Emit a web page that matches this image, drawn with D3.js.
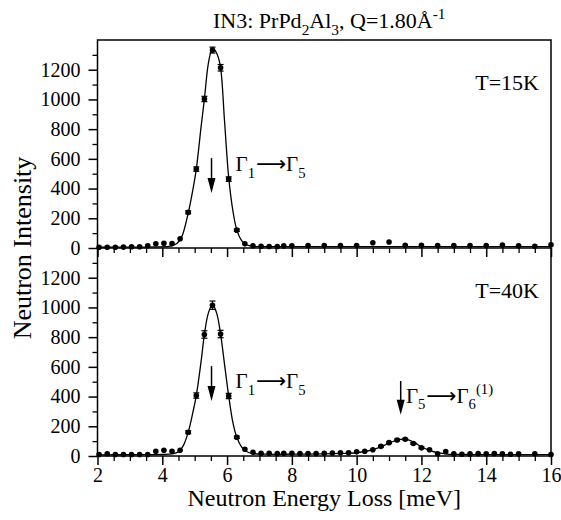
<!DOCTYPE html>
<html>
<head>
<meta charset="utf-8">
<script src="https://cdnjs.cloudflare.com/ajax/libs/d3/7.8.5/d3.min.js"></script>
<style>
  body { margin: 0; background: #fff; }
  text { font-family: "Liberation Serif", "Times New Roman", serif; fill: #000; }
</style>
</head>
<body>
<svg id="chart"></svg>
<script>
// values (IN3, PrPd2Al3)
const energy15 = [2.05,2.3,2.55,2.8,3.05,3.3,3.55,3.8,4.05,4.3,4.55,4.8,5.05,5.3,5.55,5.8,6.05,6.3,6.55,6.8,7.05,7.3,7.55,
  7.75,8.0,8.5,9.0,9.5,10.0,10.5,11.0,11.5,12.0,12.5,13.0,13.5,14.0,14.5,15.0,15.5,16.0]
const counts15 = [5,5,5,6,8,8,15,28,32,30,62,240,531,1003,1332,1213,464,120,28,15,12,10,10,
  14,15,16,16,16,16,35,40,18,18,16,16,16,16,20,15,12,22]
const err15 = [0,0,0,0,0,0,0,0,0,0,0,10,15,18,20,22,15,8,0,0,0,0,0,
  0,0,0,0,0,0,0,0,0,0,0,0,0,0,0,0,0,0]

const fitE15 = [2.0,3.0,3.8,4.3,4.45,4.6,4.8,4.95,5.05,5.2,5.3,5.42,5.52,5.6,5.7,5.8,5.92,6.05,6.18,6.3,6.45,6.6,6.8,7.1,8.0,16.0]
const fitI15 = [5,6,7,15,30,75,235,400,531,820,1003,1240,1325,1335,1300,1213,860,475,250,122,50,22,11,9,9,9]

const energy40 = [2.05,2.3,2.55,2.8,3.05,3.3,3.55,3.8,4.05,4.3,4.55,4.8,5.05,5.3,5.55,5.8,6.05,6.3,6.55,6.8,7.05,7.3,7.55,
  7.75,8.0,8.25,8.5,8.75,9.0,9.25,9.5,9.75,10.0,10.25,10.5,10.75,11.0,11.25,11.5,11.75,12.0,12.25,12.5,12.75,13.0,
  13.25,13.5,13.75,14.0,14.25,14.5,14.75,15.0,15.5,16.0]
const counts40 = [10,15,10,10,10,10,10,32,39,32,39,160,407,818,1015,821,404,126,45,25,18,18,16,
  18,18,16,16,16,18,20,22,22,28,32,42,65,90,108,113,84,55,42,15,30,14,
  12,14,16,15,16,14,12,14,15,10]
const err40 = [0,0,0,0,0,0,0,0,0,0,0,10,18,25,28,25,18,8,0,0,0,0,0,
  0,0,0,0,0,0,0,0,0,0,0,0,6,6,6,6,6,6,0,0,0,0,
  0,0,0,0,0,0,0,0,0,0]

const fitE40 = [2.0,3.5,4.0,4.3,4.5,4.65,4.8,4.95,5.05,5.2,5.3,5.42,5.55,5.68,5.8,5.92,6.05,6.18,6.3,6.45,6.6,6.8,7.2,
  8.0,9.0,9.5,10.0,10.3,10.6,10.85,11.1,11.3,11.45,11.6,11.8,12.0,12.25,12.5,12.8,13.2,14.0,16.0]
const fitI40 = [8,9,10,14,28,70,160,300,407,640,818,960,1020,960,821,620,404,225,126,60,30,16,12,
  12,14,17,22,32,50,72,96,110,113,108,88,62,38,22,13,10,9,9]

const xTicks = [2,4,6,8,10,12,14,16]
const yTicks = [0,200,400,600,800,1000,1200]
const tempLabels = ['T=15K', 'T=40K']

const width = 561
const height = 520
const left = 97.5
const right = 551
const panelTops = [40, 248]
const panelHeight = 208
const serif = '"Liberation Serif", "Times New Roman", serif'

const svg = d3.select('#chart')
  .attr('width', width)
  .attr('height', height)

svg.append('rect')
  .attr('width', width)
  .attr('height', height)
  .attr('fill', '#fff')

const x = d3.scaleLinear().domain([2, 16]).range([left, right])

const panels = [
  { energy: energy15, counts: counts15, err: err15, fitE: fitE15, fitI: fitI15 },
  { energy: energy40, counts: counts40, err: err40, fitE: fitE40, fitI: fitI40 }
]

const line = d3.line().curve(d3.curveCatmullRom.alpha(0.5))

// strip d3's default axis styling so the serif font applies
function styleAxis(a, w) {
  a.attr('font-family', serif).attr('font-size', 20)
  a.select('.domain').remove()
  a.selectAll('line').attr('stroke-width', w)
  a.selectAll('text').attr('font-family', serif).attr('font-size', 20)
}

panels.forEach((p, i) => {
  const top = panelTops[i]
  const bottom = top + panelHeight
  const y = d3.scaleLinear().domain([0, 1400]).range([bottom, top])
  p.y = y

  const g = svg.append('g')

  // y axis, major ticks with labels and minor ticks between them
  g.append('g')
    .attr('transform', `translate(${left},0)`)
    .call(d3.axisLeft(y).tickValues(yTicks).tickSize(9).tickPadding(8).tickFormat(d3.format('d')))
    .call(a => styleAxis(a, 1.5))

  g.append('g')
    .attr('transform', `translate(${left},0)`)
    .call(d3.axisLeft(y).tickValues(d3.range(100, 1400, 200)).tickSize(5).tickFormat(''))
    .call(a => styleAxis(a, 1.3))

  // x axis at the bottom of each panel
  g.append('g')
    .attr('transform', `translate(0,${bottom})`)
    .call(d3.axisBottom(x).tickValues(xTicks).tickSize(9).tickPadding(3)
      .tickFormat(i === 1 ? d3.format('d') : ''))
    .call(a => styleAxis(a, 1.5))

  g.append('g')
    .attr('transform', `translate(0,${bottom})`)
    .call(d3.axisBottom(x).tickValues(d3.range(2.5, 16, 0.5).filter(v => v % 2 !== 0)).tickSize(5).tickFormat(''))
    .call(a => styleAxis(a, 1.3))

  // fit curve
  g.append('path')
    .datum(d3.zip(p.fitE, p.fitI))
    .attr('d', line.x(d => x(d[0])).y(d => y(d[1])))
    .attr('fill', 'none')
    .attr('stroke', '#000')
    .attr('stroke-width', 1.3)

  const pts = d3.zip(p.energy, p.counts, p.err)

  // error bars
  const eb = g.append('g').selectAll('g')
    .data(pts.filter(d => d[2] > 0))
    .join('g')
  eb.append('line')
    .attr('x1', d => x(d[0])).attr('x2', d => x(d[0]))
    .attr('y1', d => y(d[1] - d[2])).attr('y2', d => y(d[1] + d[2]))
    .attr('stroke', '#000').attr('stroke-width', 1.2)
  eb.selectAll('.cap')
    .data(d => [d[1] - d[2], d[1] + d[2]].map(v => [d[0], v]))
    .join('line')
    .attr('x1', d => x(d[0]) - 3).attr('x2', d => x(d[0]) + 3)
    .attr('y1', d => y(d[1])).attr('y2', d => y(d[1]))
    .attr('stroke', '#000').attr('stroke-width', 1.2)

  // data points
  g.append('g').selectAll('circle')
    .data(pts)
    .join('circle')
    .attr('cx', d => x(d[0]))
    .attr('cy', d => y(d[1]))
    .attr('r', 2.8)
    .attr('fill', '#000')

  // temperature label
  g.append('text')
    .attr('x', 539)
    .attr('y', top + 50)
    .attr('text-anchor', 'end')
    .attr('font-size', 22)
    .text(tempLabels[i])
})

// frame
svg.append('rect')
  .attr('x', left).attr('y', panelTops[0])
  .attr('width', right - left).attr('height', panelHeight * 2)
  .attr('fill', 'none').attr('stroke', '#000').attr('stroke-width', 1.5)
svg.append('line')
  .attr('x1', left).attr('x2', right)
  .attr('y1', panelTops[1]).attr('y2', panelTops[1])
  .attr('stroke', '#000').attr('stroke-width', 1.5)

// transition arrows
const arrowE = [5.52, 5.52, 11.36]
const arrowFrom = [605, 605, 505]
const arrowTo = [370, 370, 278]
const arrowPanel = [0, 1, 1]

arrowE.forEach((e, k) => {
  const y = panels[arrowPanel[k]].y
  const ax = x(e)
  const y0 = y(arrowFrom[k])
  const y1 = y(arrowTo[k])
  svg.append('line')
    .attr('x1', ax).attr('x2', ax)
    .attr('y1', y0).attr('y2', y1 - 12)
    .attr('stroke', '#000').attr('stroke-width', 1.5)
  svg.append('path')
    .attr('d', `M${ax - 4},${y1 - 15}L${ax + 4},${y1 - 15}L${ax},${y1}Z`)
    .attr('fill', '#000')
})

// rich text from parts: [text, shift]  (shift: 0 normal, 1 sub, -1 sup, 2 long arrow)
function richText(sel, parts, size) {
  let cur = 0
  parts.forEach(([t, s]) => {
    const target = s === 1 ? size * 0.3 : s === -1 ? -size * 0.4 : 0
    const ts = sel.append('tspan')
      .attr('dy', target - cur)
      .attr('font-size', s === 1 || s === -1 ? size * 0.7 : size)
      .text(t)
    if (s === 2) ts.attr('font-family', '"DejaVu Sans", sans-serif').attr('dx', 1)
    cur = target
  })
}

const g15 = [['Γ', 0], ['1', 1], ['⟶', 2], ['Γ', 0], ['5', 1]]
const g56 = [['Γ', 0], ['5', 1], ['⟶', 2], ['Γ', 0], ['6', 1], ['(1)', -1]]

const labelE = [6.26, 6.26, 11.52]
const labelI = [515, 455, 360]
const labelPanel = [0, 1, 1]
const labelParts = [g15, g15, g56]

labelE.forEach((e, k) => {
  const t = svg.append('text')
    .attr('x', x(e))
    .attr('y', panels[labelPanel[k]].y(labelI[k]))
  richText(t, labelParts[k], 21)
})

// title
const title = svg.append('text').attr('x', 213).attr('y', 28)
richText(title, [['IN3: PrPd', 0], ['2', 1], ['Al', 0], ['3', 1], [', Q=1.80Å', 0], ['-1', -1]], 22)

// axis titles
svg.append('text')
  .attr('x', (left + right) / 2)
  .attr('y', 506)
  .attr('text-anchor', 'middle')
  .attr('font-size', 24)
  .text('Neutron Energy Loss [meV]')

svg.append('text')
  .attr('transform', `translate(31,${panelTops[1]}) rotate(-90)`)
  .attr('text-anchor', 'middle')
  .attr('font-size', 26)
  .text('Neutron Intensity')
</script>
</body>
</html>
